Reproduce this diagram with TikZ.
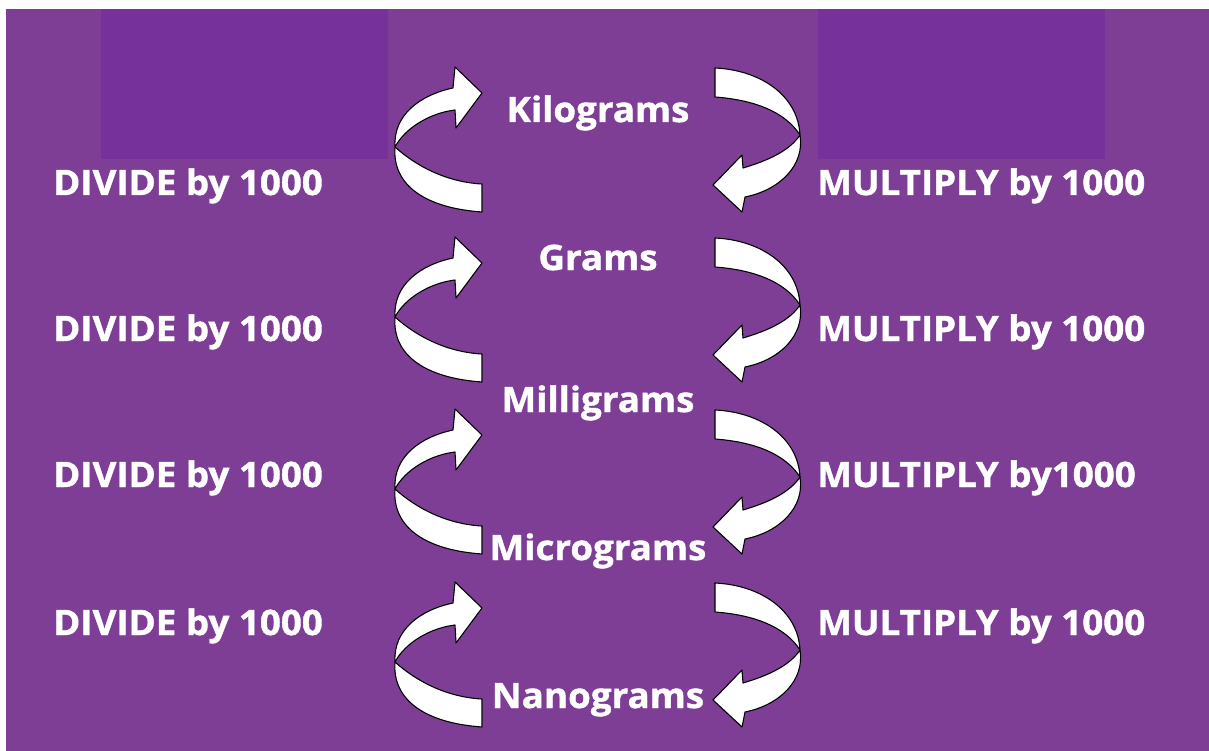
\documentclass[tikz,border=0pt]{standalone}
\usepackage{fontspec}
\setmainfont[BoldFeatures={FakeStretch=1.05,FakeBold=1.2}]{Open Sans}
\definecolor{bgpurple}{RGB}{126,62,150}
\definecolor{darkpurple}{RGB}{118,49,154}
\begin{document}
\begin{tikzpicture}[x=1pt,y=-1pt,
  band/.style={fill=white,draw=black,line width=1.1pt,line join=round},
  lbl/.style={text=white,font=\bfseries\fontsize{35}{35}\selectfont,anchor=base west,inner sep=0pt},
  unit/.style={text=white,font=\bfseries\fontsize{35}{35}\selectfont,anchor=base,inner sep=0pt}]
\useasboundingbox (0,0) rectangle (1209,751);
\fill[white] (0,0) rectangle (1209,751);
\fill[bgpurple] (6,9) rectangle (1209,751);
\fill[darkpurple] (101,9) rectangle (388,159);
\fill[darkpurple] (818,9) rectangle (1105,159);

% curved arrows
\foreach \dy in {0,170,342,515}{
  \begin{scope}[shift={(0,\dy)}]
    % divide arrow (left): lower band
    \path[band] (395,147) .. controls (392,185) and (425,208) .. (482,212)
      -- (482,184) .. controls (445,182) and (415,165) .. (395,147) -- cycle;
    % divide arrow (left): upper band with head
    \path[band] (395,147) .. controls (393,115) and (420,95) .. (453,88)
      -- (455,67) -- (482,93) -- (456,128) -- (455,110)
      .. controls (430,113) and (405,128) .. (395,147) -- cycle;
    % multiply arrow (right): upper band
    \path[band] (715,68) .. controls (760,70) and (798,95) .. (800,135)
      .. controls (785,112) and (755,100) .. (715,97) -- cycle;
    % multiply arrow (right): lower band with head
    \path[band] (800,135) .. controls (805,165) and (780,190) .. (745,197)
      -- (742,212) -- (713,185) -- (742,155) -- (743,168)
      .. controls (770,160) and (790,150) .. (800,135) -- cycle;
  \end{scope}
}

% unit names
\node[unit] (kg) at (598,122) {Kilograms};
\node[unit] (g)  at (598,270) {Grams};
\node[unit] (mg) at (598,412) {Milligrams};
\node[unit] (ug) at (598,560) {Micrograms};
\node[unit] (ng) at (598,708) {Nanograms};

% left labels
\node[lbl] (d1) at (53,195) {DIVIDE by 1000};
\node[lbl] (d2) at (53,341) {DIVIDE by 1000};
\node[lbl] (d3) at (53,487) {DIVIDE by 1000};
\node[lbl] (d4) at (53,635) {DIVIDE by 1000};

% right labels
\node[lbl] (m1) at (817,195) {MULTIPLY by 1000};
\node[lbl] (m2) at (817,341) {MULTIPLY by 1000};
\node[lbl] (m3) at (817,487) {MULTIPLY by1000};
\node[lbl] (m4) at (817,635) {MULTIPLY by 1000};
\end{tikzpicture}
\end{document}
